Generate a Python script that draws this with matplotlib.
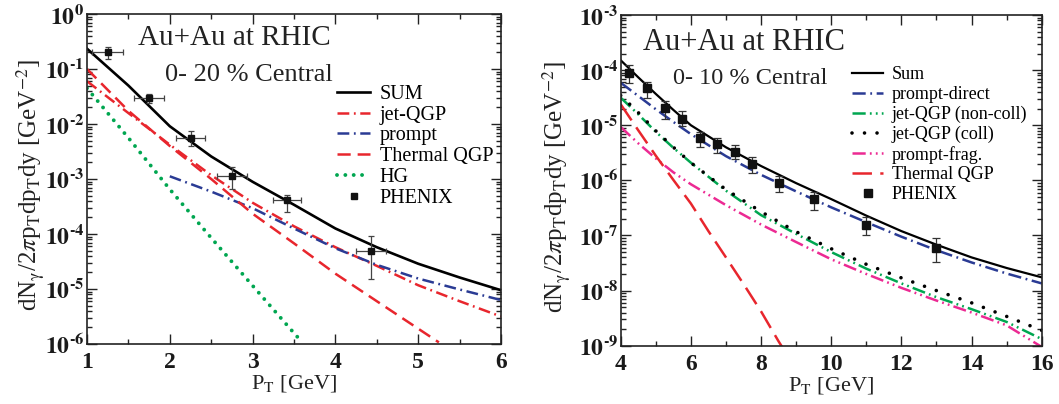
import numpy as np
import matplotlib
matplotlib.use('Agg')
import matplotlib.pyplot as plt
from matplotlib.ticker import FixedLocator, FuncFormatter, MultipleLocator, NullFormatter

plt.rcParams['font.family'] = ['Liberation Serif', 'DejaVu Serif']
plt.rcParams['mathtext.fontset'] = 'stix'
plt.rcParams['lines.scale_dashes'] = False

# ---------------- Left panel (0-20 % central) ----------------
l_sum_x = [1.0, 1.5, 2.0, 2.5, 3.0, 3.5, 4.0, 4.5, 5.0, 5.5, 6.0]
l_sum_y = [2.34e-1, 5.0e-2, 9.1e-3, 2.57e-3, 8.9e-4, 3.4e-4, 1.26e-4, 5.75e-5, 2.88e-5, 1.62e-5, 9.5e-6]

l_jet_x = [1.0, 1.5, 2.0, 2.5, 3.0, 3.5, 4.0, 4.5, 5.0, 5.5, 6.0]
l_jet_y = [6.0e-2, 1.58e-2, 4.2e-3, 1.17e-3, 3.7e-4, 1.38e-4, 5.75e-5, 2.63e-5, 1.17e-5, 6.0e-6, 3.16e-6]

l_prompt_x = [2.0, 2.5, 3.0, 3.5, 4.0, 4.5, 5.0, 5.5, 6.0]
l_prompt_y = [1.12e-3, 5.9e-4, 2.95e-4, 1.26e-4, 5.5e-5, 2.75e-5, 1.55e-5, 9.8e-6, 6.3e-6]

l_therm_x = [1.0, 1.5, 2.0, 2.5, 3.0, 3.5, 4.0, 4.5, 5.0, 5.25]
l_therm_y = [1.0e-1, 1.74e-2, 3.98e-3, 1.0e-3, 2.34e-4, 6.76e-5, 1.9e-5, 6.0e-6, 1.9e-6, 1.07e-6]

l_hg_x = [1.0, 1.5, 2.0, 2.5, 3.0, 3.5, 3.6]
l_hg_y = [4.47e-2, 5.6e-3, 6.5e-4, 8.5e-5, 1.15e-5, 1.58e-6, 1.07e-6]

l_dat_x = [1.25, 1.75, 2.25, 2.75, 3.42, 4.43]
l_dat_y = [2.07e-1, 2.95e-2, 5.6e-3, 1.12e-3, 4.1e-4, 5.0e-5]
l_dat_ylo = [1.50e-1, 2.39e-2, 3.9e-3, 6.7e-4, 2.5e-4, 1.5e-5]
l_dat_yhi = [2.55e-1, 3.48e-2, 7.6e-3, 1.63e-3, 5.1e-4, 9.1e-5]
l_dat_xlo = [1.06, 1.57, 2.07, 2.57, 3.25, 4.25]
l_dat_xhi = [1.44, 1.93, 2.43, 2.93, 3.59, 4.61]
l_ticks_y = [1e-6, 1e-5, 1e-4, 1e-3, 1e-2, 1e-1, 1e0]

# ---------------- Right panel (0-10 % central) ----------------
r_x = [4.0, 4.5, 5.0, 5.5, 6.0, 7.0, 8.0, 9.0, 10.0, 11.0, 12.0, 13.0, 14.0, 15.0, 16.0]
r_sum_y = [1.51e-4, 7.4e-5, 3.7e-5, 1.9e-5, 1.0e-5, 3.98e-6, 1.82e-6, 8.9e-7, 4.57e-7,
           2.29e-7, 1.2e-7, 6.8e-8, 4.0e-8, 2.57e-8, 1.74e-8]
r_pdir_y = [5.9e-5, 3.4e-5, 1.95e-5, 1.15e-5, 6.9e-6, 2.75e-6, 1.26e-6, 6.3e-7, 3.24e-7,
            1.74e-7, 9.5e-8, 5.4e-8, 3.24e-8, 2.04e-8, 1.35e-8]
r_jnc_y = [3.16e-5, 1.58e-5, 7.6e-6, 3.9e-6, 2.09e-6, 6.5e-7, 2.34e-7, 1.07e-7, 5.0e-8,
           2.5e-8, 1.35e-8, 7.6e-9, 4.6e-9, 2.7e-9, 1.32e-9]
r_jc_y = [3.47e-5, 1.7e-5, 7.9e-6, 4.0e-6, 2.09e-6, 6.8e-7, 2.7e-7, 1.17e-7, 5.75e-8,
          3.0e-8, 1.7e-8, 1.0e-8, 6.0e-9, 3.4e-9, 1.9e-9]
r_pfrag_y = [9.3e-6, 4.7e-6, 2.5e-6, 1.4e-6, 8.5e-7, 3.55e-7, 1.58e-7, 7.6e-8, 3.7e-8,
             2.0e-8, 1.12e-8, 6.6e-9, 4.0e-9, 2.34e-9, 9.5e-10]
r_therm_x = [4.0, 4.5, 5.0, 5.5, 6.0, 6.5, 7.0, 7.5, 8.0, 8.5, 8.6]
r_therm_y = [2.4e-5, 8.1e-6, 2.8e-6, 1.02e-6, 3.8e-7, 1.2e-7, 4.0e-8, 1.32e-8, 4.2e-9, 1.2e-9, 9.5e-10]

r_dat_x = [4.25, 4.75, 5.25, 5.75, 6.25, 6.75, 7.25, 7.75, 8.5, 9.5, 11.0, 13.0]
r_dat_y = [8.9e-5, 4.7e-5, 2.04e-5, 1.32e-5, 5.9e-6, 4.5e-6, 3.3e-6, 1.95e-6, 9.1e-7, 4.6e-7, 1.55e-7, 6.0e-8]
r_dat_ylo = [5.9e-5, 3.16e-5, 1.32e-5, 9.8e-6, 4.1e-6, 3.1e-6, 2.45e-6, 1.35e-6, 6.2e-7, 2.95e-7, 1.0e-7, 3.3e-8]
r_dat_yhi = [1.23e-4, 6.2e-5, 2.8e-5, 1.78e-5, 7.6e-6, 5.9e-6, 4.3e-6, 2.6e-6, 1.2e-6, 6.2e-7, 2.15e-7, 9.1e-8]
r_ticks_y = [1e-9, 1e-8, 1e-7, 1e-6, 1e-5, 1e-4, 1e-3]

RED = '#e8262d'
BLUE = '#2a3b94'
GREEN = '#00a650'
MAGENTA = '#ec2a93'

fig = plt.figure(figsize=(10.59, 4.04), dpi=100)
axL = fig.add_axes([87/1059, (404-344)/404, 414/1059, 330/404])
axR = fig.add_axes([620.7/1059, (404-345.7)/404, 421/1059, 330.7/404])

ylab = r'dN$_{\mathrm{\gamma}}$/2$\pi$p$_{\mathrm{T}}$dp$_{\mathrm{T}}$dy [GeV$^{-2}$]'
xlab = r'P$_{\mathrm{T}}$ [GeV]'


def fmt_pow(v, pos):
    e = int(round(np.log10(v)))
    if e < 0:
        return '$\\mathbf{10^{\u2010%d}}$' % (-e)
    return r'$\mathbf{10^{%d}}$' % e


def minor_log(ticks):
    out = []
    for t in ticks[:-1]:
        for m in range(2, 10):
            out.append(t * m)
    return out


def style_axis(ax, yt, xmaj, xmin_step, ylab_x):
    ax.set_yscale('log')
    ax.set_ylim(yt[0], yt[-1])
    ax.yaxis.set_major_locator(FixedLocator(yt))
    ax.yaxis.set_minor_locator(FixedLocator(minor_log(yt)))
    ax.yaxis.set_major_formatter(FuncFormatter(fmt_pow))
    ax.yaxis.set_minor_formatter(NullFormatter())
    ax.xaxis.set_major_locator(MultipleLocator(xmaj))
    ax.xaxis.set_minor_locator(MultipleLocator(xmin_step))
    ax.tick_params(which='both', direction='in', top=True, right=True, width=1.0, colors='#222222')
    ax.tick_params(which='major', length=7)
    ax.tick_params(which='minor', length=3.5)
    ax.tick_params(axis='y', which='major', labelsize=17, labelcolor='#1a1a1a', pad=2)
    ax.tick_params(axis='x', which='major', labelsize=17, labelcolor='#1a1a1a', pad=6)
    for lab in ax.get_xticklabels():
        lab.set_fontweight('bold')
    for s in ax.spines.values():
        s.set_linewidth(1.2)
        s.set_color('#222222')
    ax.set_ylabel(ylab, fontsize=18, color='#222222')
    ax.yaxis.set_label_coords(ylab_x, 0.48)
    ax.set_xlabel(xlab, fontsize=16, color='#222222', labelpad=0)


# ---- Left panel ----
ax = axL
ax.plot(l_sum_x, l_sum_y, color='black', lw=1.9, label='SUM')
ax.plot(l_jet_x, l_jet_y, color=RED, lw=1.8, dashes=(8.5, 3.3, 1.3, 3.3), label='jet-QGP')
ax.plot(l_prompt_x, l_prompt_y, color=BLUE, lw=1.8, dashes=(8.5, 3.3, 1.3, 3.3), label='prompt')
ax.plot(l_therm_x, l_therm_y, color=RED, lw=1.8, dashes=(9.5, 5.0), label='Thermal QGP')
ax.plot(l_hg_x, l_hg_y, color=GREEN, lw=2.8, dashes=(0.01, 6.0), dash_capstyle='round',
        solid_capstyle='round', label='HG')
l_xerr = [np.array(l_dat_x) - np.array(l_dat_xlo), np.array(l_dat_xhi) - np.array(l_dat_x)]
l_yerr = [np.array(l_dat_y) - np.array(l_dat_ylo), np.array(l_dat_yhi) - np.array(l_dat_y)]
ax.errorbar(l_dat_x, l_dat_y, xerr=l_xerr, yerr=l_yerr, fmt='none', ecolor='#444444',
            elinewidth=0.9, capsize=2.5, capthick=0.9)
ax.plot(l_dat_x, l_dat_y, 's', color='#111111', ms=5, label='PHENIX')
ax.set_xlim(1, 6)
style_axis(ax, l_ticks_y, 1, 0.5, -0.10)
ax.text(0.355, 0.927, 'Au+Au at RHIC', transform=ax.transAxes, ha='center', va='center',
        fontsize=21, color='#222222')
ax.text(0.39, 0.815, '0- 20 % Central', transform=ax.transAxes, ha='center', va='center',
        fontsize=19, color='#222222')
ax.legend(loc='upper left', bbox_to_anchor=(0.605, 0.785), frameon=False, fontsize=14.5,
          handlelength=1.6, handletextpad=0.5, labelspacing=0.08, borderpad=0, borderaxespad=0)

# ---- Right panel ----
ax = axR
ax.plot(r_x, r_sum_y, color='black', lw=1.6, label='Sum')
ax.plot(r_x, r_pdir_y, color=BLUE, lw=1.8, dashes=(9.5, 3.3, 1.3, 3.3), label='prompt-direct')
ax.plot(r_x, r_jnc_y, color=GREEN, lw=1.8, dashes=(9.5, 3.0, 1.3, 3.0, 1.3, 3.0), label='jet-QGP (non-coll)')
ax.plot(r_x, r_jc_y, color='black', lw=2.6, dashes=(0.01, 9.0), dash_capstyle='round',
        label='jet-QGP (coll)')
ax.plot(r_x, r_pfrag_y, color=MAGENTA, lw=1.8, dashes=(9.5, 3.0, 1.3, 3.0, 1.3, 3.0), label='prompt-frag.')
ax.plot(r_therm_x, r_therm_y, color=RED, lw=1.8, dashes=(14.0, 6.0), label='Thermal QGP')
r_yerr = [np.array(r_dat_y) - np.array(r_dat_ylo), np.array(r_dat_yhi) - np.array(r_dat_y)]
ax.errorbar(r_dat_x, r_dat_y, yerr=r_yerr, fmt='none', ecolor='#333333',
            elinewidth=0.9, capsize=3, capthick=0.9)
ax.plot(r_dat_x, r_dat_y, 's', color='#111111', ms=5.5, label='PHENIX')
ax.set_xlim(4, 16)
style_axis(ax, r_ticks_y, 2, 1, -0.115)
ax.text(0.294, 0.918, 'Au+Au at RHIC', transform=ax.transAxes, ha='center', va='center',
        fontsize=22, color='#222222')
ax.text(0.307, 0.809, '0- 10 % Central', transform=ax.transAxes, ha='center', va='center',
        fontsize=17.5, color='#222222')
ax.legend(loc='upper left', bbox_to_anchor=(0.55, 0.845), frameon=False, fontsize=13,
          handlelength=1.7, handletextpad=0.5, labelspacing=0.15, borderpad=0, borderaxespad=0)

fig.savefig('out.png', dpi=100)
